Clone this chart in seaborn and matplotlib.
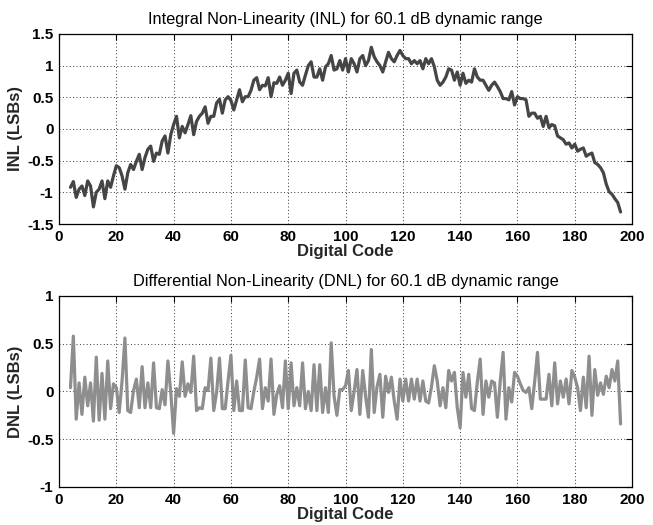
import matplotlib
matplotlib.use("Agg")
import matplotlib.pyplot as plt
import seaborn as sns
import pandas as pd

# Digital codes measured
codes = list(range(4, 197))

# Integral non-linearity per code (LSBs)
inl = [
    -0.92, -0.83, -1.08, -0.95, -0.90, -1.05, -0.82, -0.90, -1.23, -1.00,
    -0.95, -0.82, -1.10, -0.82, -0.92, -0.74, -0.58, -0.61, -0.74, -0.95,
    -0.69, -0.56, -0.64, -0.51, -0.40, -0.64, -0.45, -0.32, -0.27, -0.51,
    -0.38, -0.40, -0.19, -0.11, -0.38, -0.09, 0.07, 0.20, -0.14, 0.04,
    -0.06, 0.07, 0.21, -0.09, 0.12, 0.20, 0.25, 0.35, 0.09, 0.20,
    0.20, 0.41, 0.47, 0.25, 0.46, 0.51, 0.45, 0.30, 0.46, 0.62,
    0.43, 0.51, 0.51, 0.61, 0.77, 0.81, 0.62, 0.69, 0.68, 0.81,
    0.51, 0.73, 0.72, 0.82, 0.69, 0.77, 0.88, 0.56, 0.88, 0.93,
    0.74, 0.69, 0.85, 1.00, 1.06, 0.82, 0.82, 0.95, 0.77, 0.98,
    1.03, 1.16, 0.93, 0.95, 1.08, 0.93, 1.11, 0.90, 1.11, 1.03,
    0.90, 1.11, 1.16, 1.00, 1.08, 1.29, 1.14, 1.06, 1.00, 0.90,
    1.06, 1.21, 1.11, 1.06, 1.16, 1.24, 1.16, 1.11, 1.11, 1.03,
    1.08, 1.03, 1.08, 0.95, 1.11, 1.03, 1.11, 0.98, 0.77, 0.69,
    0.74, 0.82, 0.95, 0.93, 0.77, 0.90, 0.69, 0.88, 0.72, 0.77,
    0.74, 0.95, 0.82, 0.77, 0.77, 0.69, 0.61, 0.69, 0.74, 0.67,
    0.59, 0.48, 0.48, 0.46, 0.59, 0.38, 0.51, 0.48, 0.48, 0.46,
    0.20, 0.25, 0.25, 0.17, 0.20, 0.04, 0.20, 0.02, 0.07, 0.05,
    -0.11, -0.14, -0.17, -0.24, -0.22, -0.30, -0.24, -0.35, -0.32, -0.30,
    -0.43, -0.40, -0.38, -0.53, -0.56, -0.61, -0.69, -0.87, -0.99, -1.03,
    -1.10, -1.16, -1.31,
]

# Differential non-linearity per code (LSBs)
dnl = [
    0.04, 0.58, -0.29, 0.09, -0.24, 0.15, -0.15, 0.09, -0.31, 0.36,
    -0.30, 0.19, -0.29, 0.32, -0.18, 0.08, 0.04, -0.22, 0.11, 0.56,
    -0.20, -0.22, 0.01, 0.13, -0.17, 0.26, -0.17, 0.09, -0.17, 0.30,
    -0.17, -0.18, 0.02, -0.14, 0.32, -0.01, -0.44, 0.03, -0.05, 0.31,
    -0.05, 0.08, -0.01, 0.37, -0.20, -0.17, -0.18, 0.04, 0.01, 0.35,
    -0.20, -0.01, 0.35, -0.18, -0.18, 0.11, 0.38, -0.20, 0.11, -0.20,
    -0.20, 0.33, -0.17, -0.18, 0.00, 0.15, 0.34, -0.18, 0.04, -0.10,
    0.34, -0.24, -0.03, 0.06, -0.17, 0.32, -0.18, 0.30, -0.15, 0.04,
    -0.15, 0.30, -0.18, 0.00, -0.20, 0.28, -0.20, 0.28, -0.22, 0.04,
    -0.22, 0.51, -0.05, -0.25, 0.02, 0.02, 0.06, 0.22, -0.20, 0.00,
    0.23, -0.24, 0.22, -0.05, -0.27, 0.44, -0.22, 0.05, 0.18, -0.27,
    0.16, -0.01, 0.15, -0.10, -0.29, 0.13, -0.10, 0.13, -0.10, 0.13,
    -0.08, 0.13, -0.10, 0.11, -0.10, -0.12, 0.05, 0.27, 0.11, -0.15,
    0.04, -0.17, 0.22, 0.11, 0.20, -0.17, -0.38, 0.20, -0.06, 0.18,
    -0.18, -0.20, 0.10, 0.34, -0.24, 0.11, -0.06, 0.11, 0.09, -0.27,
    0.11, 0.41, -0.29, 0.04, -0.11, 0.20, 0.16, 0.08, 0.01, -0.01,
    0.04, -0.18, 0.10, 0.41, -0.08, -0.08, -0.08, 0.18, -0.15, 0.30,
    -0.13, 0.11, -0.06, 0.13, -0.13, 0.22, 0.15, 0.04, -0.20, 0.15,
    -0.17, 0.37, -0.25, 0.23, -0.04, 0.09, -0.03, 0.16, 0.04, 0.23,
    0.11, 0.32, -0.34,
]

x_ticks = list(range(0, 201, 20))
inl_ticks = [-1.5, -1.0, -0.5, 0.0, 0.5, 1.0, 1.5]
inl_labels = ["-1.5", "-1", "-0.5", "0", "0.5", "1", "1.5"]
dnl_ticks = [-1.0, -0.5, 0.0, 0.5, 1.0]
dnl_labels = ["-1", "-0.5", "0", "0.5", "1"]

inl_title = "Integral Non-Linearity (INL) for 60.1 dB dynamic range"
dnl_title = "Differential Non-Linearity (DNL) for 60.1 dB dynamic range"

sns.set_theme(style="white")
plt.rcParams["font.family"] = ["Liberation Sans", "DejaVu Sans"]

df = pd.DataFrame({"code": codes, "inl": inl, "dnl": dnl})

fig = plt.figure(figsize=(6.53, 5.25), dpi=100)
ax1 = fig.add_axes([0.0904, 0.5733, 0.8775, 0.3620])
ax2 = fig.add_axes([0.0904, 0.0724, 0.8775, 0.3638])


def style_axis(ax, yticks, ylabels, ylim, title, ylabel):
    ax.set_xlim(0, 200)
    ax.set_ylim(*ylim)
    ax.set_xticks(x_ticks)
    ax.set_xticklabels([str(t) for t in x_ticks])
    ax.set_yticks(yticks)
    ax.set_yticklabels(ylabels)
    ax.grid(True, linestyle=(0, (1, 2.5)), color="#333333", linewidth=0.7)
    ax.set_axisbelow(True)
    for sp in ax.spines.values():
        sp.set_visible(True)
        sp.set_color("black")
        sp.set_linewidth(0.9)
    ax.tick_params(direction="in", length=4, width=0.8, top=True, right=True,
                   labelsize=11, pad=4, colors="black")
    for lab in ax.get_xticklabels() + ax.get_yticklabels():
        lab.set_fontweight("bold")
    ax.set_title(title, fontsize=11.8, color="black", pad=7)
    ax.set_xlabel("Digital Code", fontsize=12, fontweight="bold", labelpad=0)
    ax.set_ylabel(ylabel, fontsize=12, fontweight="bold", labelpad=3)


sns.lineplot(data=df, x="code", y="inl", ax=ax1, color="#454545",
             linewidth=2.3, estimator=None)
style_axis(ax1, inl_ticks, inl_labels, (-1.5, 1.5), inl_title, "INL (LSBs)")

sns.lineplot(data=df, x="code", y="dnl", ax=ax2, color="#8e8e8e",
             linewidth=2.3, estimator=None)
style_axis(ax2, dnl_ticks, dnl_labels, (-1.0, 1.0), dnl_title, "DNL (LSBs)")

fig.savefig("out.png", dpi=100, facecolor="white")
